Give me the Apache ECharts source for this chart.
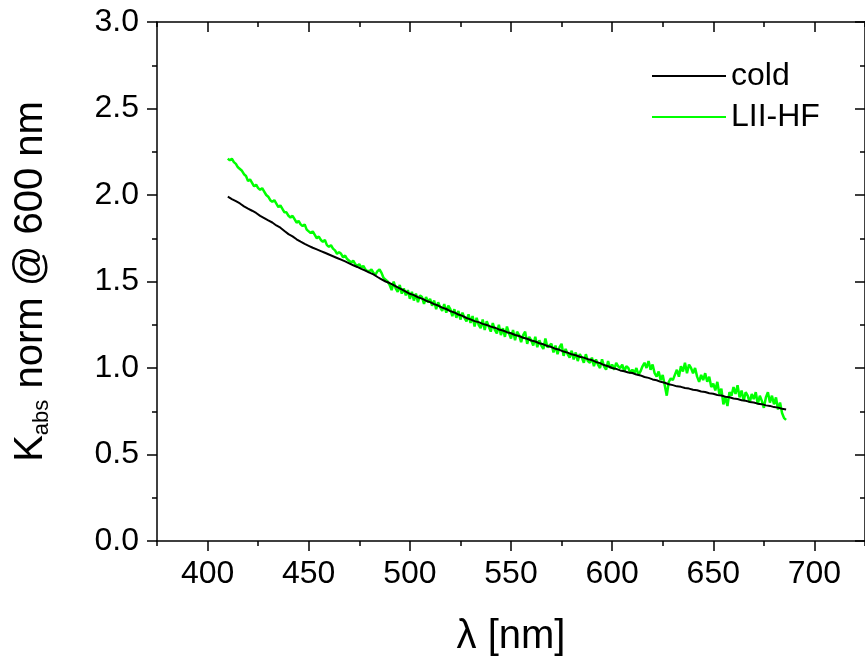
<!DOCTYPE html>
<html>
<head>
<meta charset="utf-8">
<script src="https://cdn.jsdelivr.net/npm/echarts@6/dist/echarts.min.js"></script>
<style>
html,body{margin:0;padding:0;background:#fff;}
#chart{width:865px;height:662px;}
</style>
</head>
<body>
<div id="chart"></div>
<script>
// ---- data ----
const seriesNames = ['cold', 'LII-HF'];

const coldStart = 410, coldStep = 2;
const coldValues = [
  1.990,1.976,1.964,1.951,1.934,1.921,1.909,1.896,1.879,1.866,
  1.853,1.841,1.824,1.811,1.792,1.774,1.761,1.744,1.730,1.717,
  1.706,1.695,1.686,1.676,1.666,1.656,1.646,1.636,1.626,1.616,
  1.605,1.594,1.584,1.573,1.563,1.551,1.541,1.526,1.512,1.500,
  1.491,1.479,1.466,1.454,1.441,1.429,1.421,1.409,1.401,1.389,
  1.381,1.369,1.361,1.349,1.341,1.329,1.321,1.309,1.301,1.289,
  1.281,1.271,1.265,1.255,1.249,1.239,1.233,1.223,1.217,1.207,
  1.201,1.191,1.185,1.175,1.169,1.159,1.153,1.143,1.137,1.127,
  1.121,1.111,1.105,1.095,1.089,1.079,1.074,1.065,1.060,1.051,
  1.046,1.035,1.028,1.017,1.010,1.000,0.995,0.986,0.981,0.974,
  0.971,0.962,0.957,0.948,0.943,0.934,0.929,0.920,0.915,0.906,
  0.901,0.894,0.891,0.884,0.881,0.874,0.871,0.864,0.861,0.854,
  0.851,0.844,0.841,0.834,0.831,0.824,0.821,0.814,0.811,0.804,
  0.801,0.794,0.791,0.784,0.781,0.774,0.771,0.764,0.760
];

const hfStart = 410, hfStep = 1;
const hfValues = [
  2.21,2.20,2.21,2.19,2.18,2.16,2.15,2.14,2.12,2.11,
  2.08,2.09,2.07,2.05,2.06,2.04,2.03,2.04,2.02,2.00,
  1.99,1.97,1.96,1.97,1.95,1.93,1.94,1.92,1.90,1.90,
  1.88,1.87,1.88,1.86,1.84,1.85,1.83,1.82,1.83,1.80,
  1.79,1.78,1.79,1.77,1.75,1.76,1.74,1.73,1.74,1.71,
  1.70,1.71,1.69,1.68,1.66,1.67,1.66,1.64,1.65,1.63,
  1.62,1.61,1.62,1.60,1.59,1.60,1.58,1.59,1.57,1.56,
  1.56,1.57,1.55,1.54,1.56,1.57,1.55,1.52,1.51,1.50,
  1.48,1.45,1.50,1.46,1.44,1.48,1.43,1.46,1.42,1.45,
  1.40,1.44,1.39,1.43,1.38,1.42,1.41,1.37,1.41,1.38,
  1.40,1.36,1.39,1.34,1.38,1.35,1.33,1.37,1.32,1.36,
  1.34,1.30,1.34,1.29,1.33,1.28,1.32,1.29,1.27,1.31,
  1.26,1.30,1.24,1.29,1.25,1.23,1.28,1.22,1.27,1.24,
  1.21,1.26,1.22,1.20,1.25,1.19,1.23,1.18,1.24,1.20,
  1.17,1.22,1.16,1.21,1.19,1.15,1.19,1.21,1.14,1.18,
  1.16,1.13,1.18,1.12,1.16,1.13,1.11,1.17,1.12,1.13,
  1.14,1.09,1.13,1.08,1.12,1.14,1.07,1.11,1.08,1.06,
  1.10,1.05,1.09,1.04,1.08,1.06,1.03,1.08,1.04,1.03,
  1.06,1.01,1.05,1.02,1.00,1.05,1.01,0.99,1.04,1.00,
  1.02,0.99,1.03,1.01,1.00,1.02,0.98,1.01,1.00,0.97,
  0.99,0.97,1.00,0.96,0.98,1.01,1.03,1.00,1.04,0.99,
  1.02,0.97,0.95,0.98,0.93,0.96,0.90,0.84,0.92,0.94,
  0.93,0.96,0.99,0.95,1.01,0.98,1.03,0.97,1.02,1.00,
  0.97,1.00,0.95,0.92,0.96,0.93,0.97,0.92,0.95,0.89,
  0.91,0.87,0.92,0.85,0.88,0.79,0.83,0.78,0.86,0.84,
  0.89,0.85,0.90,0.83,0.87,0.81,0.86,0.84,0.80,0.85,
  0.82,0.86,0.79,0.84,0.81,0.77,0.83,0.86,0.80,0.84,
  0.79,0.83,0.76,0.80,0.74,0.71,0.70
];

const xMajorTicks = [400, 450, 500, 550, 600, 650, 700];
const xMinorTicks = [375, 425, 475, 525, 575, 625, 675, 725];
const xRange = [375, 725];
const yRange = [0, 3];
const yInterval = 0.5;
const xTitle = 'λ [nm]';

// ---- build ----
const FONT = 'Liberation Sans';
const toPairs = (start, step, vals) => vals.map((v, i) => [start + i * step, v]);
const coldData = toPairs(coldStart, coldStep, coldValues);
const hfData = toPairs(hfStart, hfStep, hfValues);

const lineBlack = { color: '#000', width: 1.5 };

function xAxisDef(pos, ticks, len, inside, showLine, showLabel) {
  return {
    type: 'value', position: pos, min: xRange[0], max: xRange[1],
    axisLine: { show: showLine, onZero: false, lineStyle: lineBlack },
    axisTick: { show: true, customValues: ticks, length: len, inside: inside, lineStyle: lineBlack },
    axisLabel: showLabel ? { show: true, customValues: ticks, fontFamily: FONT, fontSize: 32, color: '#000', margin: 17 } : { show: false },
    splitLine: { show: false }
  };
}

const chart = echarts.init(document.getElementById('chart'), null, { renderer: 'canvas' });
const xBottom = xAxisDef('bottom', xMajorTicks, 10, false, true, true);
xBottom.name = xTitle;
xBottom.nameLocation = 'middle';
xBottom.nameGap = 76;
xBottom.nameTextStyle = { fontFamily: FONT, fontSize: 40, color: '#000' };

const option = {
  animation: false,
  backgroundColor: '#fff',
  grid: { left: 157, top: 22, width: 712, height: 524, containLabel: false },
  legend: {
    orient: 'vertical', left: 647, top: 55, itemGap: 9,
    itemWidth: 74, itemHeight: 2, icon: 'rect',
    textStyle: { fontFamily: FONT, fontSize: 32, color: '#000', padding: [0, 0, 0, 0] },
    data: seriesNames
  },
  xAxis: [
    xBottom,
    xAxisDef('bottom', xMinorTicks, 5, false, false, false),
    xAxisDef('top', xMajorTicks, 10, true, true, false),
    xAxisDef('top', xMinorTicks, 5, true, false, false)
  ],
  yAxis: [
    {
      type: 'value', position: 'left', min: yRange[0], max: yRange[1], interval: yInterval,
      axisLine: { show: true, onZero: false, lineStyle: lineBlack },
      axisTick: { show: true, length: 10, lineStyle: lineBlack },
      minorTick: { show: true, splitNumber: 2, length: 5, lineStyle: lineBlack },
      axisLabel: { fontFamily: FONT, fontSize: 32, color: '#000', margin: 18, formatter: v => v.toFixed(1) },
      splitLine: { show: false },
      name: '{k|K}{s|abs}{n| norm @ 600 nm}',
      nameLocation: 'middle', nameGap: 104,
      nameTextStyle: {
        fontFamily: FONT, fontSize: 40, color: '#000',
        rich: {
          k: { fontFamily: FONT, fontSize: 40, color: '#000', lineHeight: 44, verticalAlign: 'middle' },
          s: { fontFamily: FONT, fontSize: 22, color: '#000', lineHeight: 44, verticalAlign: 'bottom', padding: [16, 0, 0, 0] },
          n: { fontFamily: FONT, fontSize: 40, color: '#000', lineHeight: 44, verticalAlign: 'middle' }
        }
      }
    },
    {
      type: 'value', position: 'right', min: yRange[0], max: yRange[1], interval: yInterval,
      axisLine: { show: true, onZero: false, lineStyle: lineBlack },
      axisTick: { show: true, inside: true, length: 10, lineStyle: lineBlack },
      minorTick: { show: true, splitNumber: 2, length: 5, lineStyle: lineBlack },
      axisLabel: { show: false },
      splitLine: { show: false }
    }
  ],
  series: [
    {
      name: seriesNames[0], type: 'line', xAxisIndex: 0, yAxisIndex: 0,
      data: coldData, symbol: 'none', showSymbol: false,
      lineStyle: { color: '#000', width: 2 }, itemStyle: { color: '#000' }, z: 3
    },
    {
      name: seriesNames[1], type: 'line', xAxisIndex: 0, yAxisIndex: 0,
      data: hfData, symbol: 'none', showSymbol: false,
      lineStyle: { color: '#00ff00', width: 2.5 }, itemStyle: { color: '#00ff00' }, z: 2
    }
  ]
};
chart.setOption(option);
</script>
</body>
</html>
